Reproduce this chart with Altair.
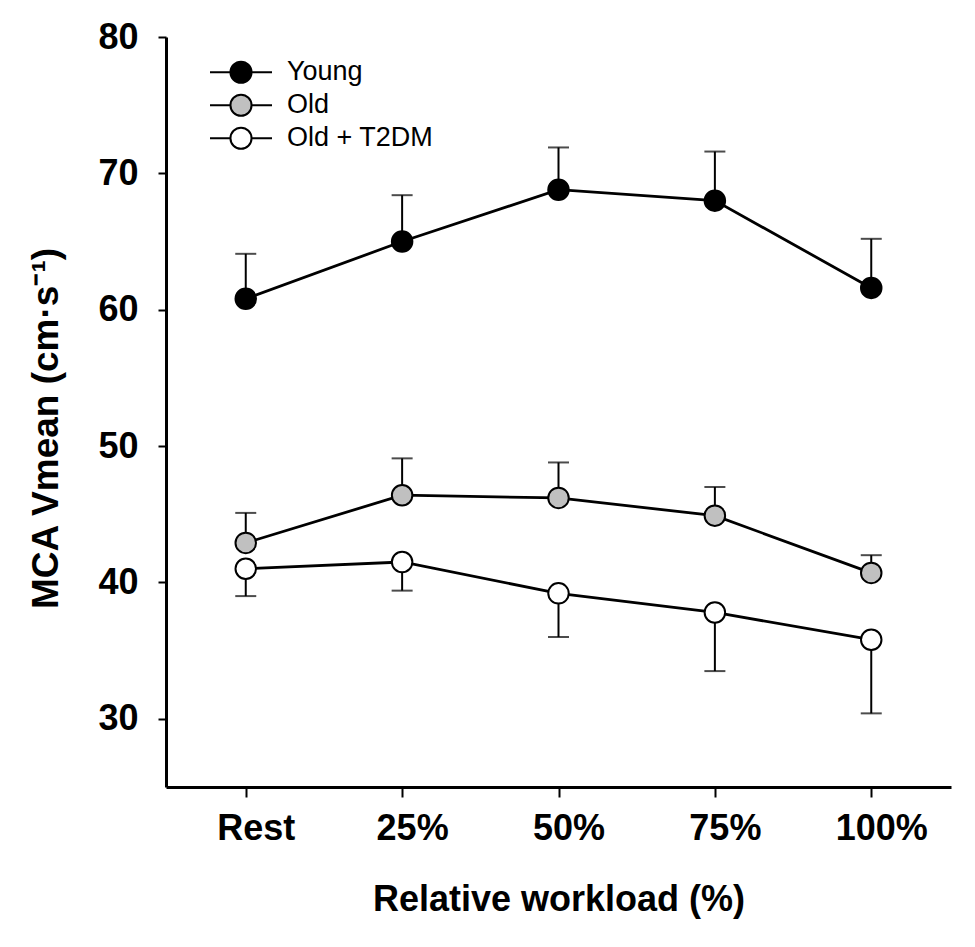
import altair as alt
import pandas as pd

workload = ["Rest", "25%", "50%", "75%", "100%"]
groups = ["Young", "Old", "Old + T2DM"]
fills = ["#000000", "#c0c0c0", "#ffffff"]

young_mean = [60.8, 65.0, 68.8, 68.0, 61.6]
young_err = [3.3, 3.4, 3.1, 3.6, 3.6]
old_mean = [42.9, 46.4, 46.2, 44.9, 40.7]
old_err = [2.2, 2.7, 2.6, 2.1, 1.3]
t2dm_mean = [41.0, 41.5, 39.2, 37.8, 35.8]
t2dm_err = [2.0, 2.1, 3.2, 4.3, 5.4]
err_dir = [1, 1, -1]  # error bar drawn upward for Young/Old, downward for T2DM

rows = []
for g, means, errs, d in zip(groups, [young_mean, old_mean, t2dm_mean],
                             [young_err, old_err, t2dm_err], err_dir):
    for w, m, e in zip(workload, means, errs):
        rows.append({"workload": w, "group": g, "mean": m, "end": m + d * e})
df = pd.DataFrame(rows)

X = alt.X("workload:O", sort=workload,
          scale=alt.Scale(type="point", padding=0.51),
          axis=alt.Axis(title="Relative workload (%)", labelAngle=0, tickSize=10,
                        labelPadding=14, labelOffset=10, titlePadding=36))
Y = alt.Y("mean:Q", scale=alt.Scale(domain=[25, 80], nice=False, zero=False),
          axis=alt.Axis(title="MCA Vmean (cm·s⁻¹)", values=[30, 40, 50, 60, 70, 80],
                        tickSize=8, labelPadding=20, titlePadding=32,
                        titleY=391, titleFontSize=37))

base = alt.Chart(df)

err_rule = base.mark_rule(color="black", strokeWidth=2).encode(
    x=X, y=Y, y2="end:Q")
err_cap = base.mark_tick(color="black", thickness=2, size=21, orient="horizontal").encode(
    x=X, y=alt.Y("end:Q"))
lines = base.mark_line(color="black", strokeWidth=2.8).encode(
    x=X, y=Y, detail="group:N")

legend_path = ("M-1,0L-0.34,0M0.34,0L1,0M-0.34,0A0.34,0.34,0,1,1,0.34,0"
               "A0.34,0.34,0,1,1,-0.34,0Z")
points = base.mark_point(shape="circle", filled=True, size=420, stroke="black",
                         strokeWidth=2, opacity=1, fillOpacity=1).encode(
    x=X, y=Y,
    fill=alt.Fill("group:N", scale=alt.Scale(domain=groups, range=fills),
                  legend=alt.Legend(title=None, orient="none", legendX=43, legendY=19,
                                    symbolType=legend_path, symbolSize=3844,
                                    symbolStrokeColor="black", symbolStrokeWidth=2,
                                    labelFont="Liberation Sans", labelFontSize=27,
                                    labelColor="black", labelOffset=14, rowPadding=0,
                                    clipHeight=32.5, padding=0)))

chart = alt.layer(err_rule, err_cap, lines, points).properties(
    width=785, height=750,
    autosize=alt.AutoSizeParams(type="none"),
    padding={"left": 158, "top": 29, "right": 16, "bottom": 150},
).configure_view(stroke=None).configure_axis(
    grid=False, domainColor="black", domainWidth=3, tickColor="black", tickWidth=2,
    labelFont="Liberation Sans", labelFontWeight="bold", labelFontSize=36,
    labelColor="black", titleFont="Liberation Sans", titleFontWeight="bold",
    titleFontSize=36, titleColor="black",
)

chart.save("out.html", embed_options={"renderer": "svg", "actions": False})
